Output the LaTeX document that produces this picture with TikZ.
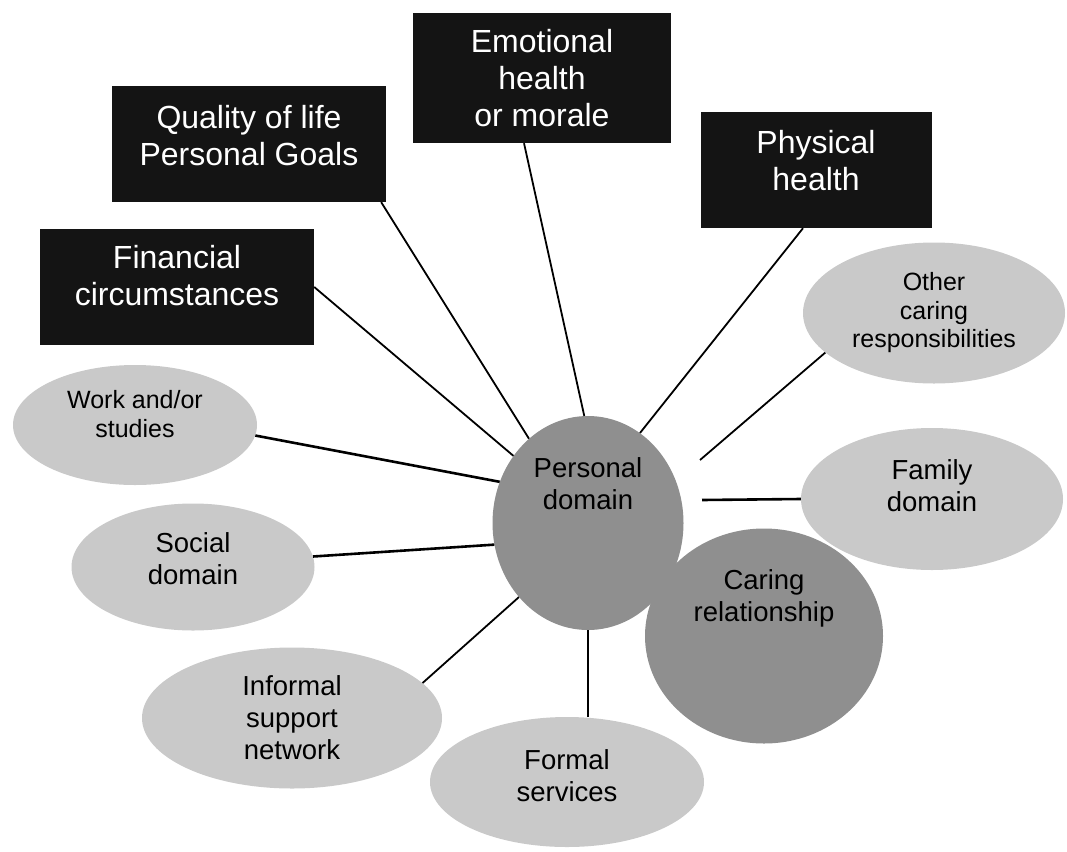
\documentclass[tikz,border=0pt]{standalone}
\usepackage{fontspec}
\setmainfont{Liberation Sans}
\usetikzlibrary{shapes.geometric}
\definecolor{boxdark}{gray}{0.08}
\definecolor{ovallight}{gray}{0.79}
\definecolor{ovaldark}{gray}{0.56}

\begin{document}
\begin{tikzpicture}[x=1pt,y=-1pt,
  darkbox/.style={rectangle,fill=boxdark,text=white,align=center,inner sep=0pt,font=\fontsize{32}{37}\selectfont},
  lightoval/.style={ellipse,fill=ovallight,align=center,inner sep=0pt,font=\fontsize{27.5}{32}\selectfont},
  smalloval/.style={lightoval,font=\fontsize{25}{28.5}\selectfont},
  darkoval/.style={ellipse,fill=ovaldark,inner sep=0pt},
  ovaltext/.style={align=center,font=\fontsize{27.5}{32}\selectfont},
  raised/.style={text depth=#1},
  link/.style={line width=1.8pt},
  thicklink/.style={line width=2.6pt}]
\useasboundingbox (0,0) rectangle (1067,851);

% dark boxes
\node[darkbox,raised=24pt,minimum width=274,minimum height=116] (finance) at (177,287) {Financial\\circumstances};
\node[darkbox,raised=18pt,minimum width=274,minimum height=116] (quality) at (249,144) {Quality of life\\Personal Goals};
\node[darkbox,minimum width=258,minimum height=130] (emotional) at (542,78) {Emotional\\health\\or morale};
\node[darkbox,raised=20pt,minimum width=231,minimum height=116] (physical) at (816,170) {Physical\\health};

% light ovals
\node[smalloval,raised=22pt,minimum width=244,minimum height=120] (work) at (135,425) {Work and/or\\studies};
\node[lightoval,raised=16pt,minimum width=243,minimum height=127] (social) at (193,567) {Social\\domain};
\node[lightoval,minimum width=300,minimum height=141] (informal) at (292,718) {Informal\\support\\network};
\node[lightoval,raised=12pt,minimum width=274,minimum height=130] (formal) at (567,782) {Formal\\services};
\node[lightoval,raised=26pt,minimum width=262,minimum height=142] (family) at (932,499) {Family\\domain};
\node[smalloval,minimum width=262,minimum height=141] (other) at (934,313) {Other\\caring\\responsibilities};

% centre
\node[darkoval,minimum width=238,minimum height=215] (caring) at (764,636) {};
\node[darkoval,minimum width=191,minimum height=214] (personal) at (588,523) {};
\node[ovaltext] (caringtext) at ([yshift=38pt]caring.center) {Caring\\relationship};
\node[ovaltext] (personaltext) at ([yshift=39pt]personal.center) {Personal\\domain};

\coordinate (otherend) at (700,460);
\coordinate (familyend) at (702,500);

\draw[link] (finance.east) -- (personal.138);
\draw[link] ([xshift=-5pt]quality.south east) -- (personal.125);
\draw[link] ([xshift=-18pt]emotional.south) -- (personal.92);
\draw[link] ([xshift=-13pt]physical.south) -- (personal.60);
\draw[link] (other.200) -- (otherend);
\draw[thicklink] (family.west) -- (familyend);
\draw[thicklink] (work.-5) -- (personal.155);
\draw[thicklink] (social.5) -- (personal.193);
\draw[link] (informal.15) -- (personal.227);
\draw[link] (personal.south) -- (personal.south |- formal.north);

\end{tikzpicture}
\end{document}
